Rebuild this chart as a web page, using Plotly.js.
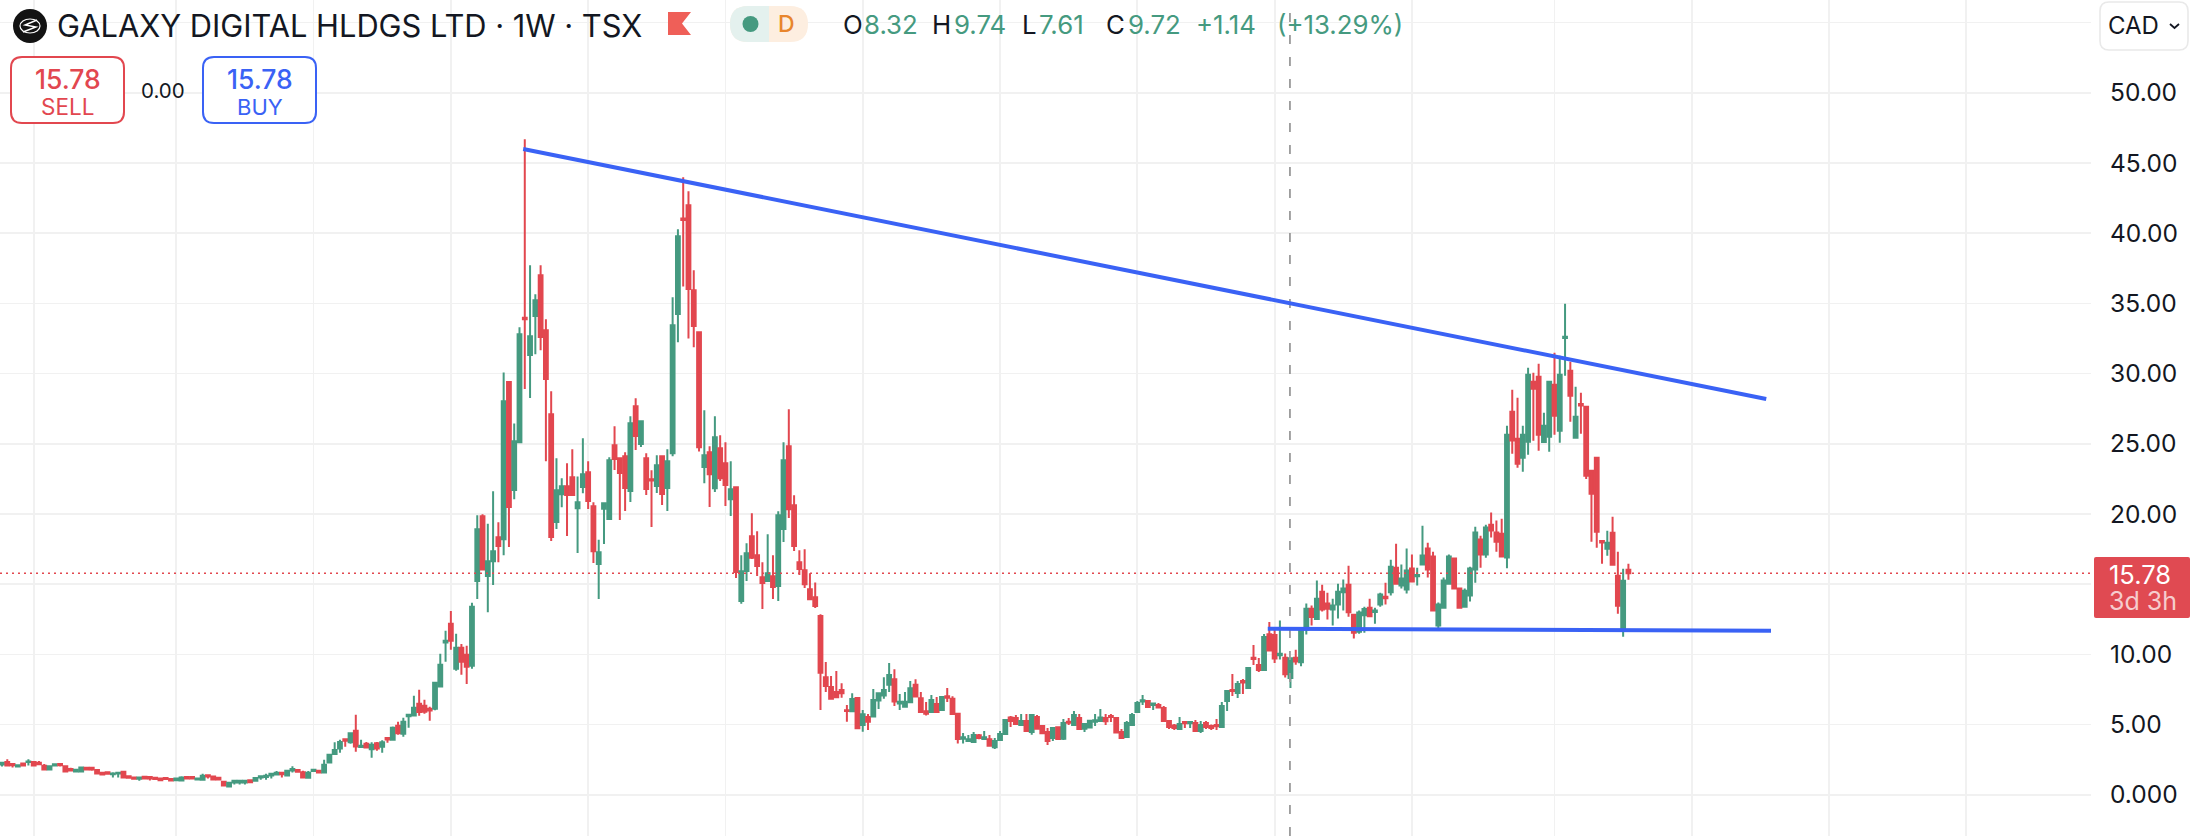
<!DOCTYPE html>
<html>
<head>
<meta charset="utf-8">
<script src="https://cdn.plot.ly/plotly-3.0.1.min.js"></script>
<style>html,body{margin:0;padding:0;background:#fff;overflow:hidden}#chart{width:2190px;height:836px}</style>
</head>
<body>
<div id="chart"></div>
<script>
const opens = [
2.16,2.33,2.2,2.02,2.23,2.33,2.33,2.28,2.07,1.8,
2.09,2.2,2.04,1.83,1.66,1.66,1.92,1.92,1.76,1.57,
1.61,1.47,1.52,1.64,1.33,1.23,1.14,1.28,1.26,1.21,
1.16,1.19,1.12,1.04,1.02,1.26,1.26,1.09,1.07,1.4,
1.31,1.21,.93,.59,.88,.88,.88,1.04,1.0,1.23,
1.26,1.38,1.45,1.57,1.38,1.73,1.76,1.61,1.21,1.69,
1.71,1.59,2.3,2.9,3.3,3.96,3.75,4.56,3.4,3.63,
3.25,3.68,3.42,4.04,3.92,4.91,4.34,5.6,5.65,6.48,
6.34,6.13,6.13,7.72,10.85,12.18,8.97,10.47,9.97,9.19,
15.23,19.84,15.59,16.63,18.34,18.2,29.4,21.71,25.11,33.98,
31.33,34.1,37.0,33.08,27.1,19.43,21.4,21.97,22.61,20.41,
21.93,22.97,20.55,16.44,20.38,19.65,24.89,23.97,24.11,21.64,
27.67,24.99,23.97,22.48,22.0,24.11,21.85,24.32,34.25,41.04,
41.99,35.93,32.94,23.35,24.4,21.83,24.68,23.61,21.05,21.9,
13.81,15.94,18.41,17.06,15.49,15.23,15.56,14.87,18.94,24.82,
20.62,16.56,16.0,14.64,14.07,12.74,8.37,7.68,7.33,7.47,
6.02,5.95,6.9,4.98,5.55,5.57,6.71,7.07,7.83,8.23,
6.5,6.28,6.59,7.83,6.87,5.95,5.9,6.47,6.04,7.02,
6.85,5.78,4.0,3.84,3.77,4.24,3.98,3.96,3.38,3.91,
4.33,5.5,5.47,4.98,5.26,4.48,5.55,4.9,4.48,4.05,
4.81,4.0,5.21,4.98,5.47,4.71,4.79,5.21,5.26,5.47,
5.61,5.47,4.48,4.12,4.98,5.9,6.64,6.69,6.4,6.4,
6.19,5.26,4.93,4.69,5.19,5.1,5.12,4.55,5.12,4.9,
4.98,4.83,6.69,7.47,7.26,8.11,7.61,9.77,9.25,8.89,
11.44,11.39,9.94,9.77,8.32,9.77,9.44,11.77,13.26,12.53,
14.47,13.62,13.19,13.55,14.43,14.97,12.83,11.62,12.79,13.33,
13.02,13.55,14.1,14.43,16.18,14.9,14.62,16.11,15.56,16.4,
17.54,16.97,12.05,13.33,15.04,16.83,14.69,13.4,14.19,16.04,
18.18,17.11,19.24,18.68,18.6,16.91,27.28,25.36,24.0,25.15,
29.42,29.78,25.12,25.5,29.21,25.93,32.53,30.2,25.43,27.83,
27.64,23.08,24.01,18.07,17.53,18.67,15.6,11.88,16.03];
const highs = [
2.28,2.54,2.21,2.11,2.3,2.54,2.33,2.4,2.2,2.04,
2.21,2.21,2.04,1.92,1.83,1.95,1.92,1.92,1.76,1.57,
1.61,1.61,1.64,1.71,1.33,1.23,1.23,1.33,1.26,1.21,
1.16,1.19,1.12,1.21,1.33,1.26,1.26,1.16,1.5,1.4,
1.31,1.21,1.0,.85,1.0,1.0,1.0,1.04,1.19,1.33,
1.5,1.5,1.69,1.57,1.78,2.04,1.76,1.71,1.69,1.85,
1.78,2.49,2.92,3.75,3.92,3.96,4.39,5.7,3.92,3.77,
3.75,3.77,3.89,4.04,4.87,5.2,5.48,5.7,7.05,7.48,
6.77,6.27,8.03,10.04,11.68,13.1,11.47,10.75,10.61,13.68,
19.91,19.98,19.31,21.62,19.41,30.07,29.48,26.44,33.3,46.69,
37.71,35.65,37.71,33.87,28.74,23.97,22.54,23.61,24.61,22.68,
25.39,23.75,20.83,18.17,20.76,24.04,26.25,23.97,24.4,26.96,
28.24,26.6,24.32,23.11,24.18,24.11,24.61,35.44,40.28,43.98,
42.98,37.36,32.94,27.39,24.82,26.96,25.61,25.11,23.75,21.97,
17.06,17.91,20.05,18.77,16.56,18.56,17.06,20.2,25.11,27.46,
21.33,17.42,17.49,15.78,15.13,12.86,9.46,8.47,8.82,7.94,
6.4,7.23,6.95,6.04,5.76,7.54,7.23,8.37,9.39,8.94,
7.18,7.33,8.11,8.23,7.33,6.61,7.11,6.97,6.97,7.61,
7.02,5.85,4.41,4.26,4.48,4.33,4.55,4.26,4.05,4.55,
5.4,5.62,5.69,5.76,5.76,5.76,5.69,4.9,4.76,4.83,
4.81,5.4,5.47,5.97,5.76,5.05,5.33,5.76,6.12,5.76,
5.76,5.47,4.69,5.26,5.83,6.69,7.11,6.69,6.5,6.54,
6.33,5.33,5.05,5.55,5.19,5.19,5.33,5.26,5.26,5.0,
5.4,6.61,7.47,8.61,8.11,8.25,9.11,10.67,9.75,11.46,
12.31,11.74,12.41,10.06,9.74,10.34,11.84,13.62,13.48,15.26,
14.97,14.4,13.97,15.04,15.33,16.32,12.83,13.12,13.4,13.97,
13.33,14.4,15.11,16.75,17.89,16.4,17.54,17.11,16.18,19.17,
17.96,17.32,13.69,15.47,17.11,16.83,14.76,14.69,16.25,19.1,
18.46,19.24,20.1,19.53,19.67,26.29,28.85,28.28,26.29,30.42,
30.06,30.7,27.21,29.49,31.49,31.27,34.98,30.84,29.06,28.64,
27.64,23.15,24.01,18.07,18.81,19.81,17.31,16.1,16.46];
const lows = [
2.02,2.09,1.95,1.95,2.02,2.09,2.09,2.18,1.8,1.73,
2.02,2.02,1.66,1.73,1.66,1.66,1.8,1.71,1.52,1.45,
1.45,1.23,1.23,1.23,1.14,1.07,1.0,1.16,1.02,1.12,
1.02,1.12,1.02,1.0,1.02,1.16,1.16,1.02,1.07,1.16,
1.09,1.09,.66,.56,.74,.74,.74,.83,.95,1.07,
1.07,1.16,1.45,1.23,1.38,1.59,1.64,1.23,1.21,1.69,
1.59,1.59,2.3,2.9,2.99,3.42,3.63,3.06,3.4,3.37,
2.64,3.13,2.99,3.7,3.92,4.27,4.13,4.77,5.65,5.63,
5.77,5.27,6.03,7.72,9.47,10.33,8.83,8.55,7.9,8.97,
13.95,16.04,13.0,14.95,16.56,17.06,17.65,21.05,25.11,28.9,
28.26,31.38,31.66,23.75,18.08,18.93,20.48,18.44,21.36,17.23,
21.48,20.36,16.51,13.95,17.86,19.65,23.14,19.58,20.22,20.86,
24.56,24.78,21.36,19.08,21.5,20.64,20.22,24.11,32.23,36.2,
32.5,31.87,24.46,22.19,20.5,21.57,22.35,20.57,19.86,15.44,
13.6,15.23,16.8,15.59,13.24,15.23,13.95,13.81,18.01,19.72,
17.37,15.66,14.73,13.88,13.31,6.04,7.33,6.85,6.95,6.92,
5.21,5.9,4.67,4.5,4.62,5.57,6.12,6.85,7.33,6.33,
6.04,6.28,6.52,7.0,5.85,5.64,5.85,5.9,6.04,6.61,
5.69,3.65,3.65,3.84,3.77,3.96,3.91,3.5,3.27,3.91,
4.33,4.83,5.05,4.9,4.55,4.27,4.71,4.33,3.55,3.84,
3.98,3.91,4.98,4.9,4.69,4.48,4.74,4.9,5.26,4.98,
5.19,4.43,4.05,4.12,4.9,5.9,6.4,6.19,6.04,6.21,
5.19,4.69,4.62,4.69,4.76,4.76,4.55,4.41,4.69,4.62,
4.62,4.83,5.97,7.04,6.9,7.18,7.61,9.25,8.75,8.89,
10.27,9.39,9.63,8.35,7.61,9.27,9.15,11.41,12.05,12.48,
13.05,12.48,12.05,12.55,13.12,12.69,11.13,11.48,11.55,12.72,
12.19,13.4,13.55,14.19,14.97,14.69,14.33,15.19,14.9,16.4,
15.47,13.12,11.84,13.33,14.97,14.69,13.33,13.4,13.76,15.11,
16.18,16.89,18.32,17.32,16.9,16.13,24.29,23.3,23.01,24.22,
25.22,24.51,25.08,24.43,25.65,25.08,29.85,26.57,25.43,25.72,
22.5,18.02,17.6,16.46,17.03,16.39,12.9,11.26,15.32];
const closes = [
2.28,2.09,2.1,2.11,2.09,2.38,2.09,2.18,1.8,2.04,
2.18,2.11,1.66,1.73,1.78,1.95,1.8,1.8,1.52,1.45,
1.5,1.52,1.57,1.23,1.21,1.14,1.23,1.16,1.16,1.12,
1.04,1.12,1.02,1.16,1.23,1.16,1.16,1.16,1.35,1.31,
1.09,1.09,.66,.85,1.0,1.0,1.0,.9,1.19,1.33,
1.35,1.5,1.57,1.47,1.71,1.83,1.64,1.23,1.57,1.78,
1.59,2.14,2.85,3.2,3.77,3.85,4.39,3.44,3.49,3.37,
3.56,3.3,3.75,3.94,4.77,4.39,5.2,5.7,6.2,5.89,
5.91,6.0,7.98,9.26,10.97,10.97,10.47,9.47,9.12,13.39,
18.91,16.04,16.63,17.34,17.72,28.03,20.5,25.18,32.8,33.88,
32.66,35.22,32.61,29.62,18.37,21.69,21.97,21.36,21.36,20.83,
22.83,20.93,17.35,17.27,20.76,23.83,23.92,22.92,21.85,26.46,
25.56,26.6,21.78,22.38,23.47,21.43,23.75,33.44,39.78,40.94,
36.03,33.39,24.75,24.18,22.83,25.46,22.54,22.07,21.76,15.87,
15.92,17.2,16.89,16.3,15.09,15.78,14.8,19.91,23.83,20.34,
17.72,16.09,15.0,13.93,13.45,8.7,7.75,6.85,6.95,7.23,
5.97,6.83,4.74,5.74,5.21,6.76,7.23,7.47,8.54,6.64,
6.62,6.62,7.59,7.0,5.9,5.78,6.76,5.9,6.97,6.92,
5.76,3.98,4.1,3.96,4.26,4.05,4.1,3.5,3.84,4.33,
5.33,5.26,5.05,5.26,4.55,5.69,4.71,4.38,3.84,4.76,
3.98,5.12,5.14,5.69,4.69,5.05,5.28,5.31,5.5,5.24,
5.54,4.43,4.05,5.12,5.69,6.54,6.74,6.26,6.5,6.21,
5.26,4.83,4.76,5.05,5.1,5.19,4.55,4.98,4.83,4.76,
4.88,6.33,7.4,7.4,7.9,8.0,9.04,9.68,8.89,11.24,
10.27,9.7,10.04,8.58,9.72,9.49,11.84,13.26,12.67,13.97,
13.19,13.26,13.48,14.47,14.69,13.0,11.55,12.98,13.24,12.72,
13.12,14.26,14.0,16.25,15.04,15.4,15.97,15.19,15.66,17.04,
16.04,13.12,13.55,15.26,16.97,14.69,13.33,14.54,16.11,18.68,
17.11,19.03,18.82,18.03,16.97,25.65,25.24,23.58,25.65,29.92,
28.92,25.65,26.29,29.42,27.0,29.92,32.63,28.42,26.93,27.73,
22.73,21.44,18.74,17.97,17.95,16.39,13.47,15.25,15.78];

const barIndex = opens.map((_, i) => i);
const monthTicks = [6,33,59,85,111,137,163,189,215,241,267,294,320,346,372];
const priceTicks = [0,5,10,15,20,25,30,35,40,45,50,55];
const priceLabels = ['0.000','5.00','10.00','','20.00','25.00','30.00','35.00','40.00','45.00','50.00',''];
const resistanceX = [98.7, 334.1];
const resistanceY = [46.0, 28.19];
const supportX = [239.7, 335];
const supportY = [11.83, 11.69];
const crosshairBar = 243.9;
const lastPrice = 15.78;

const W = 2190, H = 836, PLOT_R = 2091;
const GREEN = '#459a80', RED = '#e2474f', BLUE = '#3a62f5', INK = '#131722';
const FONT = 'Inter, "Liberation Sans", Arial, sans-serif';
const XR = [-0.379, 395.6], YR = [-2.934, 56.61];
const fx = x => x / PLOT_R, fy = y => 1 - y / H;

function label(text, x, y, size, color, anchor, weight) {
  return {text, x: fx(x), y: fy(y), xref: 'paper', yref: 'paper',
    xanchor: anchor || 'left', yanchor: 'middle', showarrow: false,
    font: {family: FONT, size, color, weight: weight || 400}, borderpad: 0, borderwidth: 0};
}
function rrect(x0, y0, x1, y1, r) {
  const a = (x, y) => fx(x) + ',' + fy(y);
  return 'M' + a(x0 + r, y0) + ' L' + a(x1 - r, y0) + ' Q' + a(x1, y0) + ' ' + a(x1, y0 + r) +
    ' L' + a(x1, y1 - r) + ' Q' + a(x1, y1) + ' ' + a(x1 - r, y1) + ' L' + a(x0 + r, y1) +
    ' Q' + a(x0, y1) + ' ' + a(x0, y1 - r) + ' L' + a(x0, y0 + r) + ' Q' + a(x0, y0) + ' ' + a(x0 + r, y0) + ' Z';
}
function poly(pts, close) {
  return 'M' + pts.map(p => fx(p[0]) + ',' + fy(p[1])).join(' L') + (close ? ' Z' : '');
}
function pshape(path, fill, line, lw, layer) {
  return {type: 'path', xref: 'paper', yref: 'paper', path, fillcolor: fill || 'rgba(0,0,0,0)',
    line: {color: line || 'rgba(0,0,0,0)', width: lw || 0}, layer: layer || 'above'};
}
function circle(cx, cy, r, fill, line, lw) {
  return {type: 'circle', xref: 'paper', yref: 'paper', x0: fx(cx - r), x1: fx(cx + r), y0: fy(cy + r), y1: fy(cy - r),
    fillcolor: fill, line: {color: line || 'rgba(0,0,0,0)', width: lw || 0}, layer: 'above'};
}

const traces = [
  {type: 'candlestick', x: barIndex, open: opens, high: highs, low: lows, close: closes,
   whiskerwidth: 0, hoverinfo: 'skip',
   increasing: {line: {color: GREEN, width: 2}, fillcolor: GREEN},
   decreasing: {line: {color: RED, width: 2}, fillcolor: RED}},
  {type: 'scatter', mode: 'lines', x: XR, y: [lastPrice, lastPrice], hoverinfo: 'skip',
   line: {color: RED, width: 1.6, dash: '2px,4px'}},
  {type: 'scatter', mode: 'lines', x: [crosshairBar, crosshairBar], y: YR, hoverinfo: 'skip',
   line: {color: '#9a9a9a', width: 1.8, dash: '9px,13px'}},
  {type: 'scatter', mode: 'lines', x: resistanceX, y: resistanceY, hoverinfo: 'skip',
   line: {color: BLUE, width: 4}},
  {type: 'scatter', mode: 'lines', x: supportX, y: supportY, hoverinfo: 'skip',
   line: {color: BLUE, width: 4}}
];

const shapes = [
  {type: 'rect', xref: 'paper', yref: 'paper', x0: fx(0), x1: fx(1410), y0: fy(44), y1: fy(6),
   fillcolor: 'rgba(255,255,255,0.75)', line: {width: 0}, layer: 'below'},
  circle(30, 26, 17, '#131313'),
  {type: 'circle', xref: 'paper', yref: 'paper', x0: fx(20), x1: fx(40), y0: fy(33), y1: fy(19),
   fillcolor: 'rgba(0,0,0,0)', line: {color: '#fff', width: 1.2}, layer: 'above'},
  pshape(poly([[23,32],[36,27],[25,25],[37,20]]), null, '#fff', 1.4),
  pshape(poly([[668,12],[691,12],[682,23.5],[691,35],[668,35]], true), '#ef5f58'),
  pshape(rrect(730, 6, 808, 42, 18), '#fdeee0'),
  pshape('M' + fx(769) + ',' + fy(6) + ' L' + fx(748) + ',' + fy(6) + ' Q' + fx(730) + ',' + fy(6) + ' ' + fx(730) + ',' + fy(24) +
         ' Q' + fx(730) + ',' + fy(42) + ' ' + fx(748) + ',' + fy(42) + ' L' + fx(769) + ',' + fy(42) + ' Z', '#e4f1ee'),
  circle(750.5, 24, 8, GREEN),
  pshape(rrect(11, 57, 124, 123, 11), '#ffffff', RED, 2),
  pshape(rrect(203, 57, 316, 123, 11), '#ffffff', BLUE, 2),
  pshape(rrect(2100, 2, 2188, 50, 9), '#ffffff', '#e9e9e9', 1.6),
  pshape(poly([[2170,24],[2174.5,28],[2179,24]]), null, INK, 1.8),
  pshape(rrect(2094, 557, 2190, 618, 2), '#e04a52')
];

const annotations = [
  label('GALAXY DIGITAL HLDGS LTD · 1W · TSX', 57, 26, 30.8, INK),
  label('D', 786, 24, 23, '#e8852c', 'center', 500),
  label('O', 843, 25, 25.8, INK), label('8.32', 864, 25, 25.8, GREEN),
  label('H', 932, 25, 25.8, INK), label('9.74', 954, 25, 25.8, GREEN),
  label('L', 1022, 25, 25.8, INK), label('7.61', 1039, 25, 25.8, GREEN),
  label('C', 1106, 25, 25.8, INK), label('9.72', 1128, 25, 25.8, GREEN),
  label('+1.14', 1196, 25, 25.8, GREEN), label('(+13.29%)', 1277, 25, 25.8, GREEN),
  label('15.78', 67.5, 79, 26.5, RED, 'center', 500),
  label('SELL', 67.5, 107, 22.5, RED, 'center'),
  label('0.00', 163, 91, 20.5, INK, 'center'),
  label('15.78', 260, 79, 26.5, BLUE, 'center', 500),
  label('BUY', 260, 107, 22, BLUE, 'center'),
  label('CAD', 2108, 26, 24, INK),
  label('15.78', 2109, 574, 25.5, '#ffffff'),
  label('3d 3h', 2109, 601, 25, 'rgba(255,255,255,0.72)')
];

const layout = {
  width: W, height: H, showlegend: false,
  margin: {l: 0, r: W - PLOT_R, t: 0, b: 0, pad: 0},
  paper_bgcolor: '#ffffff', plot_bgcolor: '#ffffff',
  boxgap: 0.28, boxgroupgap: 0,
  xaxis: {type: 'linear', range: XR, tickvals: monthTicks, showticklabels: false, ticks: '',
    showgrid: true, gridcolor: '#f1f1f1', gridwidth: 1.8, zeroline: false, showline: false,
    rangeslider: {visible: false}, fixedrange: true},
  yaxis: {range: YR, side: 'right', tickvals: priceTicks, ticktext: priceLabels, ticks: '',
    ticklabelstandoff: 18, tickfont: {family: FONT, size: 24.5, color: INK},
    showgrid: true, gridcolor: '#f1f1f1', gridwidth: 1.6, zeroline: false, showline: false, fixedrange: true},
  shapes, annotations
};

Plotly.newPlot('chart', traces, layout, {displayModeBar: false, staticPlot: true});
</script>
</body>
</html>
